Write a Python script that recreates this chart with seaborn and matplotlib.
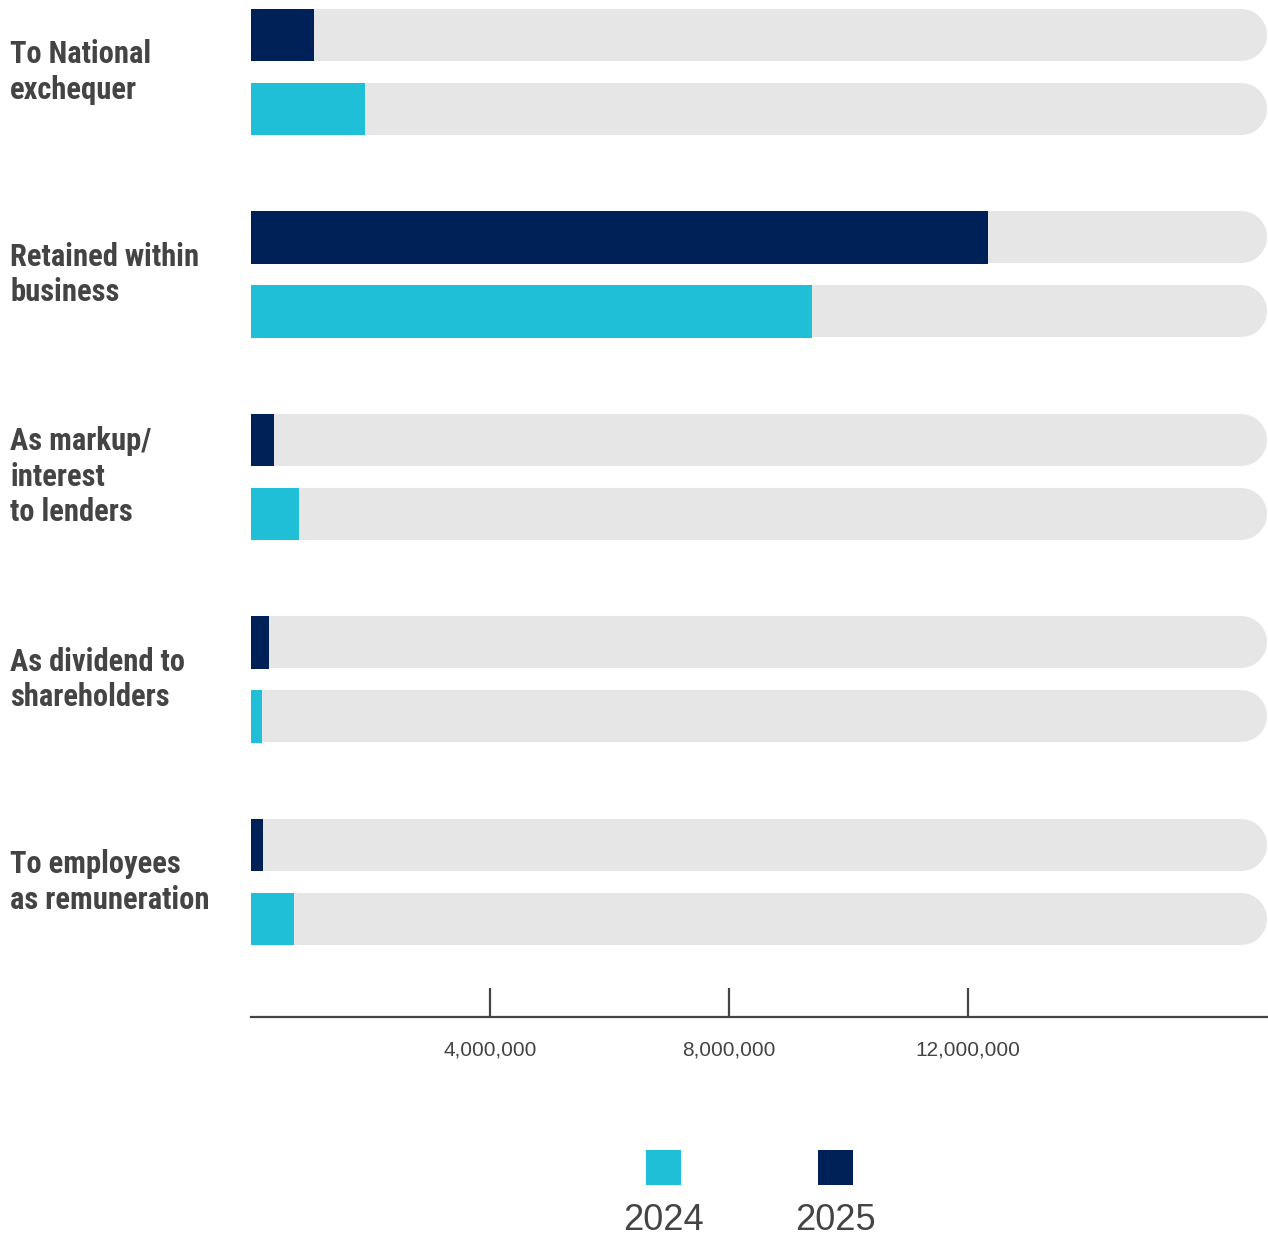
import matplotlib
matplotlib.use("Agg")
import matplotlib.pyplot as plt
import matplotlib.ticker as mticker
from matplotlib.patches import Rectangle
import pandas as pd
import seaborn as sns

# values
categories = [
    "To National\nexchequer",
    "Retained within\nbusiness",
    "As markup/\ninterest\nto lenders",
    "As dividend to\nshareholders",
    "To employees\nas remuneration",
]
values_2025 = [1_055_000, 12_335_000, 385_000, 300_000, 200_000]
values_2024 = [1_910_000, 9_390_000, 805_000, 185_000, 720_000]
years = ["2025", "2024"]
x_ticks = [4_000_000, 8_000_000, 12_000_000]
x_max = 17_000_000

colors = {"2024": "#1fc0d7", "2025": "#002157"}
track_color = "#e6e6e6"
text_color = "#444444"
label_fonts = ["Roboto Condensed", "Archivo Narrow", "Liberation Sans Narrow", "DejaVu Sans"]

df = pd.DataFrame({
    "category": categories * 2,
    "value": values_2025 + values_2024,
    "year": ["2025"] * len(categories) + ["2024"] * len(categories),
})

sns.set_style("white")
plt.rcParams["font.family"] = ["Liberation Sans", "DejaVu Sans"]

W, H, DPI = 1268, 1239, 100
fig = plt.figure(figsize=(W / DPI, H / DPI), dpi=DPI)
ax = fig.add_axes([251 / W, 222 / H, 1016 / W, 1017 / H])

sns.barplot(data=df, y="category", x="value", hue="year", hue_order=years,
            palette=colors, orient="h", width=0.731, gap=0.296,
            errorbar=None, legend=False, saturation=1, linewidth=0,
            ax=ax, zorder=2)

ax.set_xlim(0, x_max)
ax.set_ylim(4.667, -0.3556)

# grey rounded tracks behind each bar
fig.canvas.draw()
for bar in list(ax.patches):
    yc = bar.get_y() + bar.get_height() / 2
    y0 = ax.transData.transform((0, bar.get_y()))[1]
    y1 = ax.transData.transform((0, bar.get_y() + bar.get_height()))[1]
    h_px = abs(y1 - y0)
    px_per_unit = ax.transData.transform((1_000_000, 0))[0] - ax.transData.transform((0, 0))[0]
    end = x_max - (h_px / 2) / px_per_unit * 1_000_000
    ax.plot([-x_max * 0.1, end], [yc, yc], color=track_color,
            lw=h_px * 72 / DPI, solid_capstyle="round", zorder=1)

ax.set_xlim(0, x_max)
ax.set_ylim(4.667, -0.3556)

for s in ["top", "right", "left"]:
    ax.spines[s].set_visible(False)
ax.spines["bottom"].set_color(text_color)
ax.spines["bottom"].set_linewidth(1.6)

ax.set_xticks(x_ticks)
ax.xaxis.set_major_formatter(mticker.FuncFormatter(lambda v, p: f"{v:,.0f}"))
ax.tick_params(axis="x", bottom=True, direction="in", length=21, width=1.6,
               color=text_color, labelcolor=text_color, labelsize=15, pad=17)
ax.set_xlabel("")
ax.set_ylabel("")

ax.tick_params(axis="y", left=False, length=0, pad=241 * 72 / DPI)
for lab in ax.get_yticklabels():
    lab.set_horizontalalignment("left")
    lab.set_verticalalignment("center")
    lab.set_multialignment("left")
    lab.set_family(label_fonts)
    lab.set_fontweight("bold")
    lab.set_fontsize(22)
    lab.set_color(text_color)
    lab.set_linespacing(1.23)

# legend: swatch above the year label
legend_x = {"2024": 663, "2025": 835}
for yr in ["2024", "2025"]:
    cx = legend_x[yr]
    fig.add_artist(Rectangle(((cx - 17.5) / W, (H - 1185) / H), 35 / W, 35 / H,
                             facecolor=colors[yr], edgecolor="none",
                             transform=fig.transFigure))
    fig.text(cx / W, (H - 1220) / H, yr, ha="center", va="center",
             fontsize=26, color=text_color)

fig.savefig("out.png", dpi=DPI)
